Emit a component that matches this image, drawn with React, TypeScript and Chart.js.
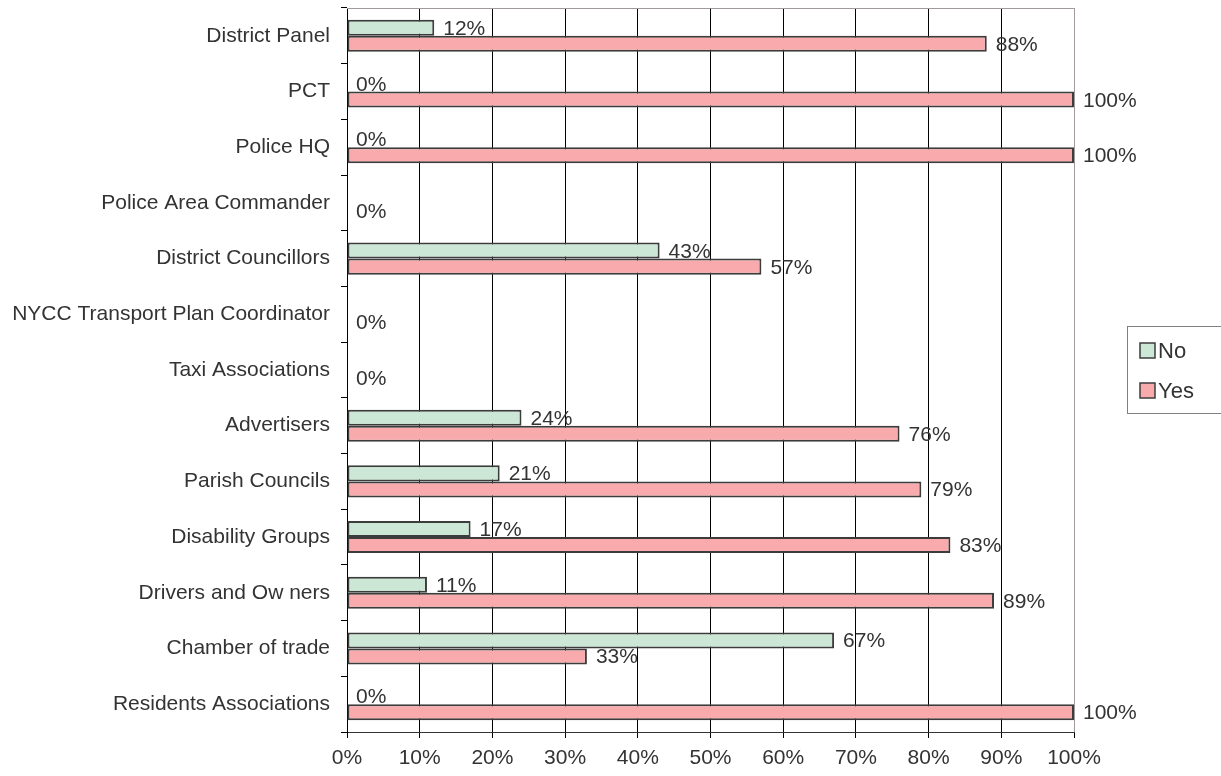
import { useEffect, useRef } from 'react';
import { Chart, registerables } from 'chart.js';

Chart.register(...registerables);

const categories = [
  'District Panel',
  'PCT',
  'Police HQ',
  'Police Area Commander',
  'District Councillors',
  'NYCC Transport Plan Coordinator',
  'Taxi Associations',
  'Advertisers',
  'Parish Councils',
  'Disability Groups',
  'Drivers and Ow ners',
  'Chamber of trade',
  'Residents Associations',
];

const noValues = [12, 0, 0, null, 43, null, null, 24, 21, 17, 11, 67, 0];
const yesValues = [88, 100, 100, 0, 57, 0, 0, 76, 79, 83, 89, 33, 100];

const seriesNames = ['No', 'Yes'];

const FONT = "'Liberation Sans', Arial, Helvetica, sans-serif";
const GREEN = '#cce7d5';
const PINK = '#f8aaad';
const EDGE = '#3c3c3c';
const TEXT = '#333333';

const labelsPlugin = {
  id: 'valueLabels',
  afterDatasetsDraw(chart: any) {
    const ctx = chart.ctx;
    const xs = chart.scales.x;
    ctx.save();
    ctx.font = `21px ${FONT}`;
    ctx.fillStyle = TEXT;
    ctx.textAlign = 'left';
    ctx.textBaseline = 'alphabetic';
    chart.data.datasets.forEach((ds: any, i: number) => {
      const meta = chart.getDatasetMeta(i);
      ds.data.forEach((v: any, j: number) => {
        if (v === null || v === undefined) return;
        const el = meta.data[j];
        const x = xs.getPixelForValue(v) + 9;
        ctx.fillText(`${v}%`, x, el.y + 7);
      });
    });
    ctx.restore();
  },
};

const framePlugin = {
  id: 'frame',
  beforeDatasetsDraw(chart: any) {
    const { ctx, chartArea } = chart;
    ctx.save();
    ctx.strokeStyle = '#a09a9a';
    ctx.lineWidth = 1;
    ctx.beginPath();
    ctx.moveTo(chartArea.left, chartArea.top + 0.5);
    ctx.lineTo(chartArea.right, chartArea.top + 0.5);
    ctx.stroke();
    ctx.restore();
  },
};

const legendPlugin = {
  id: 'boxLegend',
  afterDraw(chart: any) {
    const ctx = chart.ctx;
    ctx.save();
    ctx.strokeStyle = '#808080';
    ctx.lineWidth = 1;
    ctx.strokeRect(1127.5, 326.5, 100, 87);
    const colors = [GREEN, PINK];
    const ys = [351, 391];
    ctx.font = `22px ${FONT}`;
    ctx.textAlign = 'left';
    ctx.textBaseline = 'alphabetic';
    seriesNames.forEach((name, i) => {
      ctx.fillStyle = colors[i];
      ctx.fillRect(1140, ys[i] - 8, 15, 15);
      ctx.strokeStyle = EDGE;
      ctx.lineWidth = 1.5;
      ctx.strokeRect(1140, ys[i] - 8, 15, 15);
      ctx.fillStyle = TEXT;
      ctx.fillText(name, 1158, ys[i] + 7);
    });
    ctx.restore();
  },
};

export default function App() {
  const ref = useRef<HTMLCanvasElement>(null);
  useEffect(() => {
    document.body.style.margin = '0';
    const font = { family: FONT, size: 21 };
    const chart = new Chart(ref.current as HTMLCanvasElement, {
      type: 'bar',
      data: {
        labels: categories,
        datasets: [
          {
            label: seriesNames[0],
            data: noValues as any,
            backgroundColor: GREEN,
            borderColor: EDGE,
            borderWidth: 2,
            borderSkipped: false,
            categoryPercentage: 0.575,
            barPercentage: 1,
          },
          {
            label: seriesNames[1],
            data: yesValues,
            backgroundColor: PINK,
            borderColor: EDGE,
            borderWidth: 2,
            borderSkipped: false,
            categoryPercentage: 0.575,
            barPercentage: 1,
          },
        ],
      },
      options: {
        indexAxis: 'y',
        responsive: false,
        animation: false,
        layout: { padding: { top: 8, right: 147, left: 0, bottom: 0 } },
        plugins: { legend: { display: false }, tooltip: { enabled: false } },
        scales: {
          x: {
            type: 'linear',
            min: 0,
            max: 100,
            ticks: {
              stepSize: 10,
              callback: (v: any) => `${v}%`,
              font,
              color: TEXT,
              padding: 8,
              maxRotation: 0,
            },
            grid: {
              color: (c: any) => (c.tick && c.tick.value === 100 ? '#a09a9a' : '#000000'),
              tickColor: '#000000',
              tickLength: 6,
              lineWidth: 1,
            },
            border: { color: '#333333' },
            afterFit: (s: any) => {
              s.height = 44;
              s.paddingLeft = 0;
              s.paddingRight = 0;
            },
          },
          y: {
            ticks: { font, color: TEXT, padding: 11, autoSkip: false },
            grid: { drawOnChartArea: false, tickLength: 6, color: '#000000', offset: true },
            border: { color: '#000000' },
            afterFit: (s: any) => {
              s.width = 347;
              s.paddingTop = 0;
              s.paddingBottom = 0;
            },
          },
        },
      },
      plugins: [framePlugin, labelsPlugin, legendPlugin],
    } as any);
    return () => chart.destroy();
  }, []);
  return <canvas ref={ref} width={1221} height={776} style={{ display: 'block' }} />;
}
